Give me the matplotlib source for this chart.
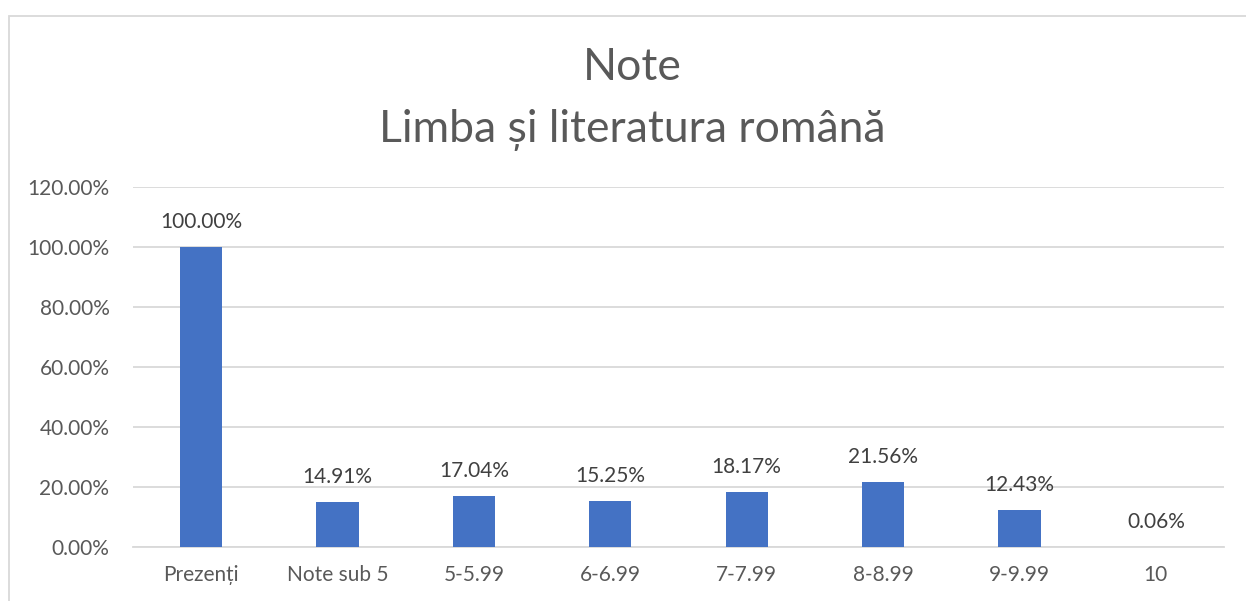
import matplotlib
matplotlib.use("Agg")
import matplotlib.pyplot as plt
from matplotlib.patches import Rectangle

plt.rcParams['font.family'] = ['Lato', 'DejaVu Sans']

categories = ['Prezenți', 'Note sub 5', '5-5.99', '6-6.99', '7-7.99', '8-8.99', '9-9.99', '10']
values = [100.00, 14.91, 17.04, 15.25, 18.17, 21.56, 12.43, 0.06]
yticks = [0, 20, 40, 60, 80, 100, 120]

text_col = '#595959'
bar_col = '#4472C4'
grid_col = '#D9D9D9'

W, H = 1246, 601
fig = plt.figure(figsize=(W / 100, H / 100), dpi=100)
ax = fig.add_axes([133 / W, (H - 547) / H, 1091 / W, 360 / H])

x = range(len(categories))
ax.bar(x, values, width=0.31, color=bar_col, zorder=3)
for xi, v in zip(x, values):
    ax.annotate('{:.2f}%'.format(v), xy=(xi, v), xytext=(0, 18), textcoords='offset points',
                ha='center', va='center', fontsize=15, color='#404040')

ax.set_xlim(-0.5, len(categories) - 0.5)
ax.set_ylim(0, 120)
ax.set_yticks(yticks)
ax.set_yticklabels(['{:.2f}%'.format(t) for t in yticks])
ax.set_xticks(list(x))
ax.set_xticklabels(categories)
ax.tick_params(axis='both', length=0, labelsize=15, labelcolor=text_col)
ax.tick_params(axis='y', pad=17)
ax.tick_params(axis='x', pad=13)
ax.grid(axis='y', color=grid_col, linewidth=1.3, zorder=0)
for s in ['top', 'right', 'left']:
    ax.spines[s].set_visible(False)
ax.spines['bottom'].set_color(grid_col)
ax.spines['bottom'].set_linewidth(1.3)

fig.text(632 / W, 1 - 68 / H, 'Note', ha='center', va='center', fontsize=32, color=text_col)
fig.text(632 / W, 1 - 130 / H, 'Limba și literatura română', ha='center', va='center',
         fontsize=32, color=text_col)

# chart border
fig.patches.append(Rectangle((9 / W, -0.1), 1.2, 1 - 16 / H + 0.1, transform=fig.transFigure,
                             fill=False, edgecolor='#D9D9D9', linewidth=1.3))

fig.savefig('out.png', dpi=100)
